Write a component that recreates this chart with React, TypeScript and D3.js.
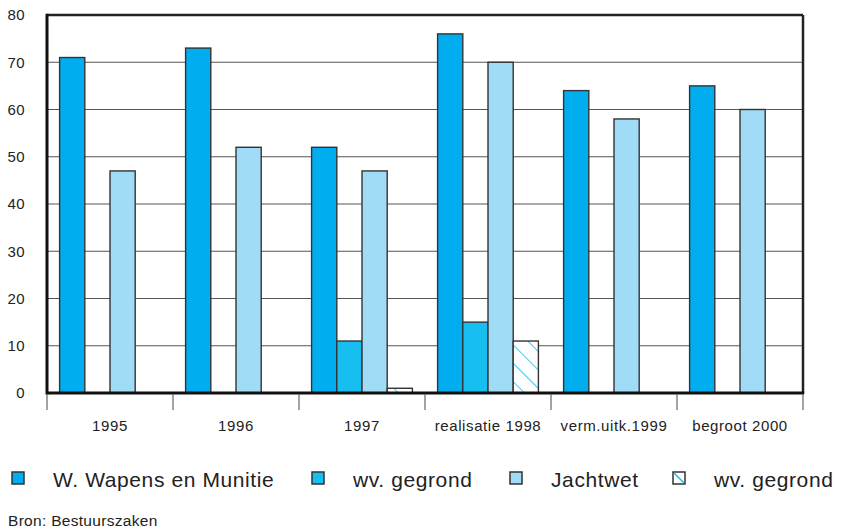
import React from 'react';
import * as d3 from 'd3';

// chart data
const categories = ['1995', '1996', '1997', 'realisatie 1998', 'verm.uitk.1999', 'begroot 2000'];
const seriesNames = ['W. Wapens en Munitie', 'wv. gegrond', 'Jachtwet', 'wv. gegrond'];
const wapens = [71, 73, 52, 76, 64, 65];
const wapensGegrond = [0, 0, 11, 15, 0, 0];
const jachtwet = [47, 52, 47, 70, 58, 60];
const jachtGegrond = [0, 0, 1, 11, 0, 0];
const yTicks = [0, 10, 20, 30, 40, 50, 60, 70, 80];

const series = [wapens, wapensGegrond, jachtwet, jachtGegrond];
const fills = ['#00aeef', '#17bff0', '#a0dcf6', 'url(#hatch)'];

const W = 841, H = 529;
const margin = { top: 15, right: 38, bottom: 136, left: 47 };
const font = '"Liberation Sans", Arial, Helvetica, sans-serif';

const App = () => {
    const x0 = d3.scaleBand()
        .domain(categories)
        .range([margin.left, W - margin.right])
        .padding(0);
    const x1 = d3.scaleBand()
        .domain(d3.range(series.length).map(String))
        .range([0, x0.bandwidth()])
        .paddingInner(0)
        .paddingOuter(0.5);
    const y = d3.scaleLinear()
        .domain([0, 80])
        .range([H - margin.bottom, margin.top]);

    const left = margin.left, right = W - margin.right;
    const top = y(80), bottom = y(0);
    const boundaries = categories.map((c) => x0(c)).concat([right]);

    // legend positions
    const legendX = [12, 312, 510, 673];

    return (
        <svg width={W} height={H} style={{ display: 'block', position: 'absolute', left: 0, top: 0 }} fontFamily={font}>
            <defs>
                <pattern id="hatch" patternUnits="userSpaceOnUse" width="13" height="13" patternTransform="rotate(-45)">
                    <rect width="13" height="13" fill="#fff" />
                    <line x1="0" y1="0" x2="0" y2="13" stroke="#1ab7ea" strokeWidth="1.6" />
                </pattern>
            </defs>
            <rect width={W} height={H} fill="#fff" />

            {/* gridlines */}
            {yTicks.filter((t) => t > 0 && t < 80).map((t) => (
                <line key={t} x1={left} x2={right} y1={y(t)} y2={y(t)} stroke="#555" strokeWidth={1.2} />
            ))}

            {/* bars */}
            {categories.map((c, i) => (
                <g key={c} transform={`translate(${x0(c)},0)`}>
                    {series.map((s, j) => s[i] > 0 ? (
                        <rect key={j}
                            x={x1(String(j))}
                            y={y(s[i])}
                            width={x1.bandwidth()}
                            height={bottom - y(s[i])}
                            fill={fills[j]}
                            stroke="#333"
                            strokeWidth={1.4} />
                    ) : null)}
                </g>
            ))}

            {/* frame */}
            <line x1={left} x2={right} y1={top} y2={top} stroke="#222" strokeWidth={2.5} />
            <line x1={right} x2={right} y1={top} y2={bottom} stroke="#222" strokeWidth={2.5} />
            <line x1={left} x2={left} y1={top - 1.2} y2={bottom + 1.5} stroke="#111" strokeWidth={3} />
            <line x1={left} x2={right + 1.2} y1={bottom} y2={bottom} stroke="#111" strokeWidth={3} />

            {/* x ticks */}
            {boundaries.map((b, i) => (
                <line key={i} x1={b} x2={b} y1={bottom + 1} y2={bottom + 17} stroke="#666" strokeWidth={1.2} />
            ))}

            {/* y labels */}
            {yTicks.map((t) => (
                <text key={t} x={25} y={y(t)} dy="0.36em" textAnchor="end" fontSize={15} fill="#222" letterSpacing={0.4}>{t}</text>
            ))}

            {/* x labels */}
            {categories.map((c) => (
                <text key={c} x={x0(c) + x0.bandwidth() / 2} y={431} textAnchor="middle" fontSize={15} fill="#222" letterSpacing={0.6}>{c}</text>
            ))}

            {/* legend */}
            {seriesNames.map((n, i) => (
                <g key={i}>
                    <rect x={legendX[i]} y={472} width={12} height={12} fill={i === 3 ? '#fff' : fills[i]} stroke="#333" strokeWidth={1.5} />
                    {i === 3 ? <line x1={legendX[i] + 1} y1={473} x2={legendX[i] + 11} y2={483} stroke="#1ab7ea" strokeWidth={1.4} /> : null}
                    <text x={legendX[i] + 41} y={487} fontSize={21} fill="#222" letterSpacing={0.6}>{n}</text>
                </g>
            ))}

            <text x={8} y={526} fontSize={15.5} fill="#222" letterSpacing={0.3}>Bron: Bestuurszaken</text>
        </svg>
    );
};

export default App;
